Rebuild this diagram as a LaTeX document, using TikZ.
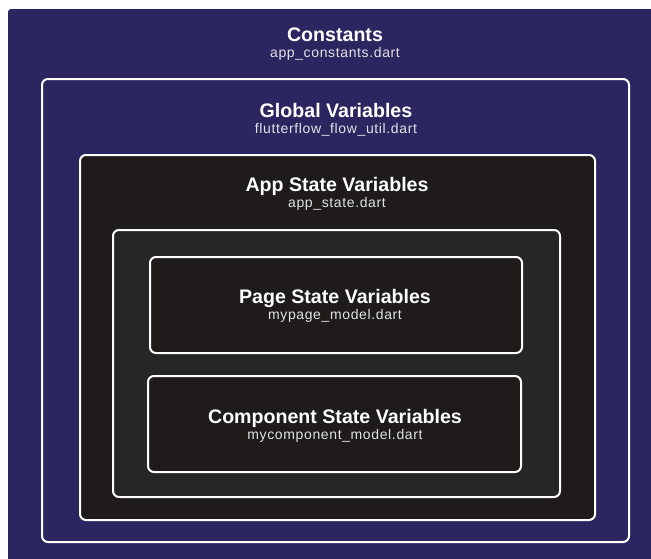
\documentclass[tikz,border=0pt]{standalone}
\usepackage{fontspec}
\setmainfont{Liberation Sans}
\newfontfamily\filefont[LetterSpace=4.5]{Liberation Sans}
\usetikzlibrary{positioning}
\definecolor{navyback}{HTML}{2B2660}
\definecolor{darkback}{HTML}{1E1B1A}
\definecolor{greyback}{HTML}{262626}
\definecolor{filegrey}{HTML}{E2E2E6}
\tikzset{
  layer/.style={draw=white,line width=2pt,rounded corners=6pt},
  title/.style={text=white,inner sep=0pt,anchor=base,font=\bfseries\fontsize{19.6}{22}\selectfont},
  file/.style={text=filegrey,inner sep=0pt,font=\filefont\fontsize{14}{16}\selectfont}
}

\begin{document}
\begin{tikzpicture}[x=1pt,y=-1pt]
    \useasboundingbox (0,0) rectangle (651,558);
    \clip (0,0) rectangle (651,558);
    \fill[white] (0,0) rectangle (651,558);
      \fill[navyback,rounded corners=3pt] (8,9) rectangle (670,580);
      \draw[layer,fill=navyback] (42,79) rectangle (629,542);
      \draw[layer,fill=darkback] (80,155) rectangle (595,520);
      \draw[layer,fill=greyback] (113,230) rectangle (560,497);
      \draw[layer,fill=darkback] (150,257) rectangle (522,353);
      \draw[layer,fill=darkback] (148,376) rectangle (521,472);
      \node[title] (constants) at (335,41) {Constants};
      \node[file,below=16pt of constants.base,anchor=base] (constfile) {app\_constants.dart};
      \node[title] (global) at (336,117) {Global Variables};
      \node[file,below=16pt of global.base,anchor=base] (globalfile) {flutterflow\_flow\_util.dart};
      \node[title] (appstate) at (337,191) {App State Variables};
      \node[file,below=16pt of appstate.base,anchor=base] (appfile) {app\_state.dart};
      \node[title] (pagestate) at (335,303) {Page State Variables};
      \node[file,below=16pt of pagestate.base,anchor=base] (pagefile) {mypage\_model.dart};
      \node[title] (compstate) at (335,423) {Component State Variables};
      \node[file,below=16pt of compstate.base,anchor=base] (compfile) {mycomponent\_model.dart};
\end{tikzpicture}
\end{document}
